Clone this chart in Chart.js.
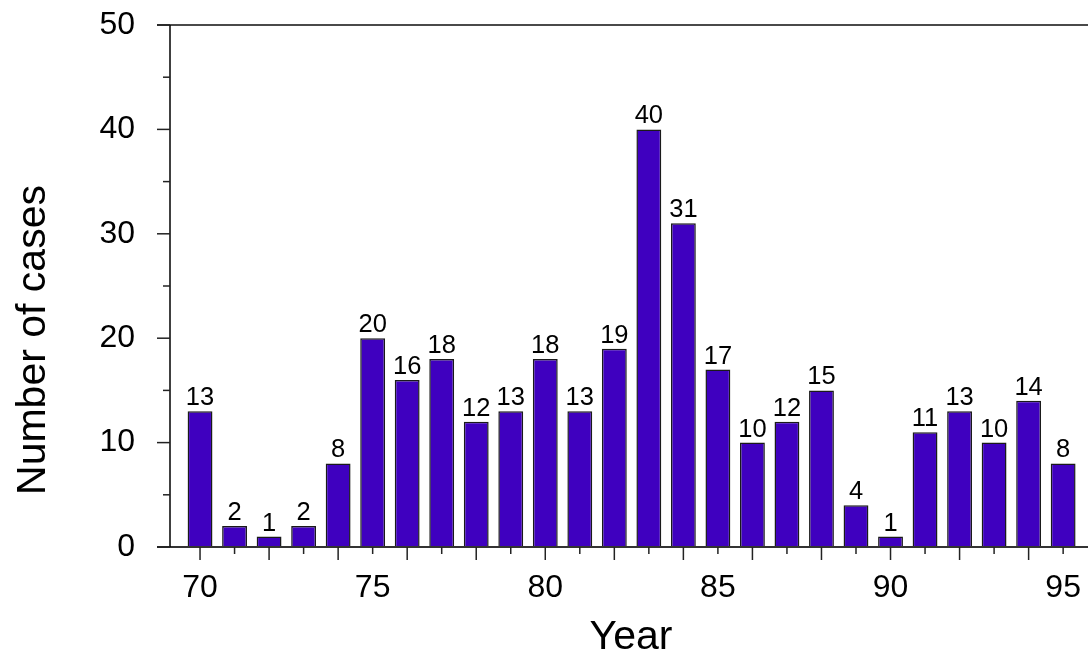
<!DOCTYPE html>
<html>
<head>
<meta charset="utf-8">
<script src="https://cdn.jsdelivr.net/npm/chart.js@4.4.1/dist/chart.umd.min.js"></script>
<style>
  html, body { margin: 0; padding: 0; background: #fff; }
  #wrap { width: 1088px; height: 653px; position: relative; }
</style>
</head>
<body>
<div id="wrap"><canvas id="casesChart"></canvas></div>
<script>
// Data
const years = [70, 71, 72, 73, 74, 75, 76, 77, 78, 79, 80, 81, 82, 83, 84, 85, 86, 87, 88, 89, 90, 91, 92, 93, 94, 95];
const cases = [13, 2, 1, 2, 8, 20, 16, 18, 12, 13, 18, 13, 19, 40, 31, 17, 10, 12, 15, 4, 1, 11, 13, 10, 14, 8];
const yTicks = [0, 10, 20, 30, 40, 50];
const xTicks = [70, 75, 80, 85, 90, 95];

const FONT = 'Liberation Sans, Arial, sans-serif';

// Axis lines, tick marks, value labels and axis titles
const axisDecor = {
    id: 'axisDecor',
    afterDatasetsDraw(chart) {
        const { ctx, chartArea, scales: { x, y } } = chart;
        ctx.save();

        // value labels on top of bars
        const meta = chart.getDatasetMeta(0);
        ctx.fillStyle = '#000';
        ctx.font = '25.5px ' + FONT;
        ctx.textAlign = 'center';
        ctx.textBaseline = 'alphabetic';
        meta.data.forEach((bar, i) => {
            ctx.fillText(String(cases[i]), bar.x, bar.y - 6);
        });

        // top line
        ctx.strokeStyle = '#4a4a4a';
        ctx.lineWidth = 2;
        ctx.beginPath();
        ctx.moveTo(chartArea.left - 13, chartArea.top);
        ctx.lineTo(chartArea.right, chartArea.top);
        ctx.stroke();

        // bottom axis line
        ctx.strokeStyle = '#333';
        ctx.beginPath();
        ctx.moveTo(chartArea.left - 13, chartArea.bottom);
        ctx.lineTo(chartArea.right, chartArea.bottom);
        ctx.stroke();

        // left axis line
        ctx.strokeStyle = '#000';
        ctx.lineWidth = 1.5;
        ctx.beginPath();
        ctx.moveTo(chartArea.left, chartArea.top);
        ctx.lineTo(chartArea.left, chartArea.bottom);
        ctx.stroke();

        // y ticks (major every 10, minor every 5)
        ctx.strokeStyle = '#222';
        ctx.lineWidth = 1.5;
        for (let v = 0; v <= 50; v += 5) {
            const py = y.getPixelForValue(v);
            const len = v % 10 === 0 ? 13 : 7;
            ctx.beginPath();
            ctx.moveTo(chartArea.left - len, py);
            ctx.lineTo(chartArea.left, py);
            ctx.stroke();
        }

        // x ticks (long on even years)
        years.forEach(yr => {
            const px = x.getPixelForValue(yr);
            const len = yr % 2 === 0 ? 13 : 7;
            ctx.beginPath();
            ctx.moveTo(px, chartArea.bottom);
            ctx.lineTo(px, chartArea.bottom + len);
            ctx.stroke();
        });

        // axis titles
        ctx.fillStyle = '#000';
        ctx.font = '41px ' + FONT;
        ctx.textAlign = 'center';
        ctx.textBaseline = 'alphabetic';
        ctx.fillText('Year', 631, 649);

        ctx.translate(45, 340);
        ctx.rotate(-Math.PI / 2);
        ctx.fillText('Number of cases', 0, 0);

        ctx.restore();
    }
};

function noEdgePadding(s) {
    s.paddingTop = 0;
    s.paddingBottom = 0;
    s.paddingLeft = 0;
    s.paddingRight = 0;
}

const ctx = document.getElementById('casesChart').getContext('2d');
new Chart(ctx, {
    type: 'bar',
    data: {
        datasets: [{
            label: 'Number of cases',
            data: years.map((yr, i) => ({ x: yr, y: cases[i] })),
            backgroundColor: '#3f00bf',
            borderColor: '#1a1a1a',
            borderWidth: 1.5,
            barPercentage: 0.9,
            categoryPercentage: 0.8
        }]
    },
    options: {
        responsive: true,
        maintainAspectRatio: false,
        animation: false,
        layout: { autoPadding: false, padding: { top: 25, left: 0, right: 0, bottom: 0 } },
        plugins: {
            legend: { display: false },
            tooltip: { enabled: false }
        },
        scales: {
            x: {
                type: 'linear',
                offset: false,
                min: 69.13,
                max: 95.72,
                afterFit: s => { s.height = 106; noEdgePadding(s); },
                afterBuildTicks: s => { s.ticks = xTicks.map(v => ({ value: v })); },
                grid: { display: false },
                border: { display: false },
                ticks: {
                    padding: 14,
                    color: '#000',
                    maxRotation: 0,
                    autoSkip: false,
                    font: { family: FONT, size: 32 }
                }
            },
            y: {
                min: 0,
                max: 50,
                afterFit: s => { s.width = 170; noEdgePadding(s); },
                afterBuildTicks: s => { s.ticks = yTicks.map(v => ({ value: v })); },
                grid: { display: false },
                border: { display: false },
                ticks: {
                    padding: 27,
                    color: '#000',
                    font: { family: FONT, size: 32 }
                }
            }
        }
    },
    plugins: [axisDecor]
});
</script>
</body>
</html>
